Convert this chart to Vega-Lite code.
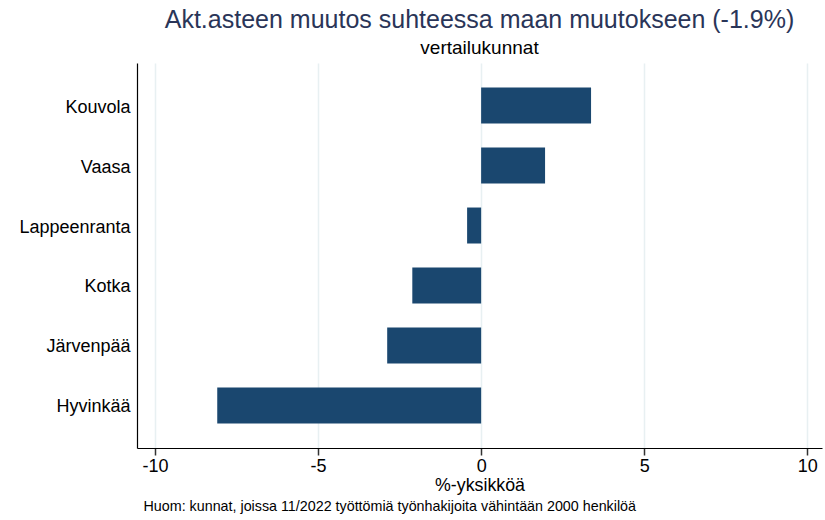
{
  "$schema": "https://vega.github.io/schema/vega-lite/v6.json",
  "autosize": {"type": "none"},
  "padding": {"left": 137, "top": 63, "right": 3, "bottom": 72},
  "width": 685,
  "height": 385,
  "background": "white",
  "config": {
    "font": "Liberation Sans",
    "view": {"stroke": null}
  },
  "title": {
    "text": "Akt.asteen muutos suhteessa maan muutokseen (-1.9%)",
    "subtitle": "vertailukunnat",
    "anchor": "middle",
    "font": "Liberation Sans",
    "fontSize": 25,
    "fontWeight": "normal",
    "color": "#2a3558",
    "subtitleFont": "Liberation Sans",
    "subtitleFontSize": 19,
    "subtitleColor": "#000000",
    "subtitlePadding": 6,
    "offset": 5
  },
  "data": {
    "values": [
      {"kunta": "Kouvola", "muutos": 3.37},
      {"kunta": "Vaasa", "muutos": 1.96},
      {"kunta": "Lappeenranta", "muutos": -0.43},
      {"kunta": "Kotka", "muutos": -2.11},
      {"kunta": "Järvenpää", "muutos": -2.88},
      {"kunta": "Hyvinkää", "muutos": -8.09}
    ]
  },
  "layer": [
    {
      "mark": {"type": "bar", "color": "#1a476f"},
      "encoding": {
        "y": {
          "field": "kunta",
          "type": "nominal",
          "sort": null,
          "scale": {"paddingInner": 0.4, "paddingOuter": 0.41},
          "axis": {
            "title": null,
            "ticks": false,
            "labelFontSize": 18,
            "labelColor": "#000000",
            "labelPadding": 7,
            "labelOffset": 2,
            "domainColor": "#000000",
            "domainWidth": 1.2,
            "grid": false
          }
        },
        "x": {
          "field": "muutos",
          "type": "quantitative",
          "scale": {"domain": [-10.55, 10.45], "nice": false, "zero": false},
          "axis": {
            "title": "%-yksikköä",
            "titleFontSize": 17.8,
            "titleFontWeight": "normal",
            "titleColor": "#000000",
            "titlePadding": 1,
            "values": [-10, -5, 0, 5, 10],
            "labelExpr": "'' + datum.value",
            "labelFontSize": 18,
            "labelColor": "#000000",
            "labelPadding": 2,
            "tickSize": 7,
            "tickColor": "#333333",
            "tickWidth": 1.5,
            "domainColor": "#000000",
            "domainWidth": 1.2,
            "grid": true,
            "gridColor": "#e8f0f2",
            "gridWidth": 1.5
          }
        }
      }
    },
    {
      "mark": {"type": "point", "opacity": 0},
      "encoding": {
        "y": {"field": "kunta", "type": "nominal", "sort": null},
        "x": {
          "field": "muutos",
          "type": "quantitative",
          "scale": {"domain": [-10.55, 10.45], "nice": false, "zero": false},
          "axis": {
            "orient": "bottom",
            "title": "Huom: kunnat, joissa 11/2022 työttömiä työnhakijoita vähintään 2000 henkilöä",
            "titleFontSize": 14.3,
            "titleFontWeight": "normal",
            "titleColor": "#000000",
            "titleAnchor": "start",
            "titleAlign": "left",
            "titleX": 6,
            "titleBaseline": "top",
            "titlePadding": 51,
            "labels": false,
            "ticks": false,
            "domain": false,
            "grid": false
          }
        }
      }
    }
  ],
  "resolve": {"scale": {"x": "independent"}, "axis": {"x": "independent"}}
}
